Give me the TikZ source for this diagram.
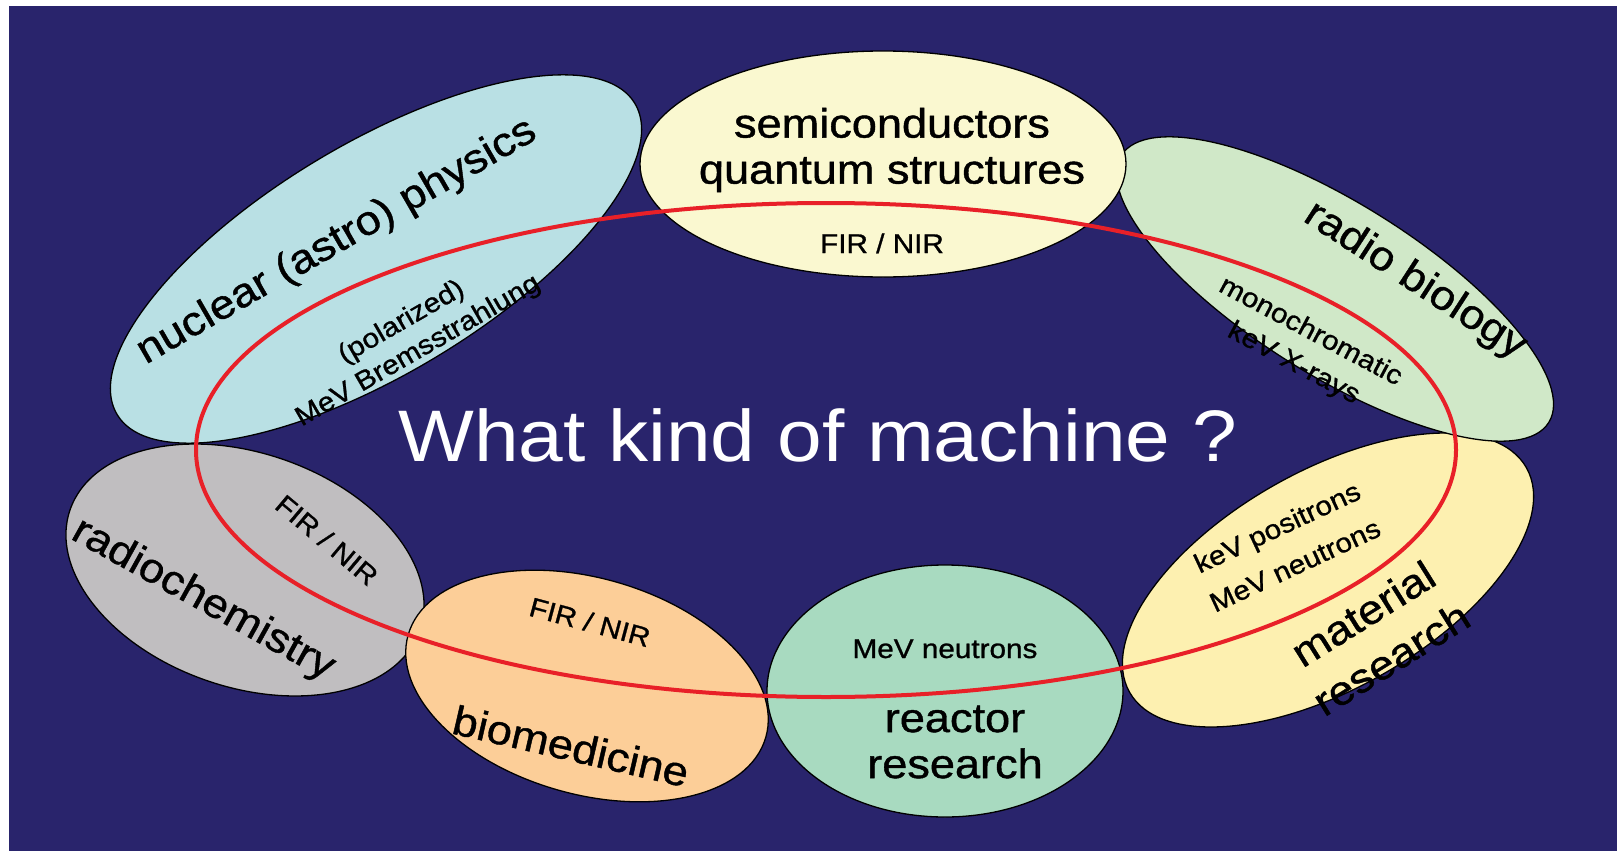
\documentclass[tikz,border=0pt]{standalone}
\usepackage{fontspec}
\setmainfont{Liberation Sans}[FakeStretch=1.1]
\newfontfamily\labelfont{Liberation Sans}[FakeStretch=1.1, FakeBold=1]
\usetikzlibrary{shapes.geometric}

\definecolor{bgblue}{RGB}{41,36,108}
\definecolor{nucblue}{RGB}{185,224,228}
\definecolor{semiyellow}{RGB}{250,248,208}
\definecolor{biogreen}{RGB}{208,232,200}
\definecolor{matyellow}{RGB}{253,240,176}
\definecolor{reacgreen}{RGB}{168,218,192}
\definecolor{medpeach}{RGB}{252,206,152}
\definecolor{chemgrey}{RGB}{192,190,192}
\definecolor{ringred}{RGB}{232,32,40}

\begin{document}
\begin{tikzpicture}[x=1pt,y=-1pt,
  blob/.style={ellipse, draw=black, line width=1.3pt, inner sep=0pt, outer sep=0pt},
  biglabel/.style={font=\labelfont\fontsize{41}{46}\selectfont, align=center, inner sep=0pt, text=black},
  smalllabel/.style={font=\labelfont\fontsize{27}{31}\selectfont, align=center, inner sep=0pt, text=black},
]
\useasboundingbox (0,0) rectangle (1617,851);
\fill[white] (0,0) rectangle (1617,851);
\fill[bgblue] (9,6) rectangle (1617,851);

% research fields
\node[blob, fill=chemgrey, minimum width=370pt, minimum height=234pt, rotate=-19] (chem) at (245,570) {};
\node[blob, fill=medpeach, minimum width=372pt, minimum height=216pt, rotate=-16] (med) at (587,686) {};
\node[blob, fill=reacgreen, minimum width=356pt, minimum height=252pt] (reac) at (945,691) {};
\node[blob, fill=matyellow, minimum width=456pt, minimum height=218pt, rotate=29.5] (mat) at (1328,580) {};
\node[blob, fill=biogreen, minimum width=504pt, minimum height=172pt, rotate=-32] (bio) at (1335,289) {};
\node[blob, fill=nucblue, minimum width=604pt, minimum height=230pt, rotate=31] (nuc) at (376,259) {};
\node[blob, fill=semiyellow, minimum width=486pt, minimum height=226pt] (semi) at (883,164) {};

% the accelerator ring
\node[ellipse, draw=ringred, line width=4pt, inner sep=0pt, minimum width=1260pt, minimum height=494pt] (ring) at (826,450) {};

% labels
\node[biglabel] (semitext) at (892,150) {semiconductors\\quantum structures};
\node[smalllabel, anchor=base] (semibeam) at (882,253) {FIR / NIR};

\node[biglabel, rotate=30] (nuctext) at (337,242) {nuclear (astro) physics};
\node[smalllabel, rotate=30, font=\labelfont\fontsize{27}{33}\selectfont] (nucbeam) at (410,337) {(polarized)\\MeV Bremsstrahlung};

\node[biglabel, rotate=-33] (biotext) at (1415,281) {radio biology};
\node[smalllabel, rotate=-28, font=\labelfont\fontsize{27}{36}\selectfont] (biobeam) at (1302,348) {monochromatic\\keV X-rays};

\node[biglabel, rotate=-29] (chemtext) at (203,600) {radiochemistry};
\node[smalllabel, rotate=-40] (chembeam) at (327,540) {FIR / NIR};

\node[smalllabel, rotate=-15] (medbeam) at (590,622) {FIR / NIR};
\node[biglabel, rotate=-13] (medtext) at (571,746) {biomedicine};

\node[smalllabel, anchor=base] (reacbeam) at (945,658) {MeV neutrons};
\node[biglabel] (reactext) at (955,742) {reactor\\research};

\node[smalllabel, rotate=25, font=\labelfont\fontsize{27}{42}\selectfont] (matbeam) at (1286,546) {keV positrons\\MeV neutrons};
\node[biglabel, rotate=32, font=\labelfont\fontsize{41}{53}\selectfont] (mattext) at (1377,636) {material\\research};

\node[anchor=base, text=white, inner sep=0pt, font=\fontsize{73}{80}\selectfont] (question) at (818,461) {What kind of machine ?};
\end{tikzpicture}
\end{document}
